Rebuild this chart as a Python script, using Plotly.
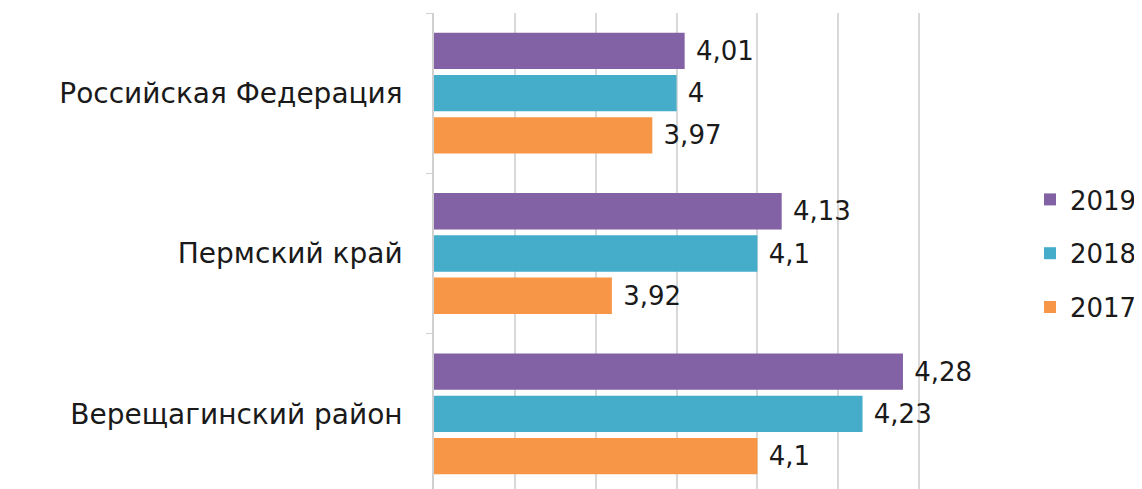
import plotly.graph_objects as go

categories = ["Верещагинский район", "Пермский край", "Российская Федерация"]
years = ["2017", "2018", "2019"]
v2017 = [4.1, 3.92, 3.97]
v2018 = [4.23, 4.1, 4.0]
v2019 = [4.28, 4.13, 4.01]
labels2017 = ["4,1", "3,92", "3,97"]
labels2018 = ["4,23", "4,1", "4"]
labels2019 = ["4,28", "4,13", "4,01"]

colors = {"2017": "#F79646", "2018": "#45ADCA", "2019": "#8261A4"}
series = {"2017": (v2017, labels2017), "2018": (v2018, labels2018), "2019": (v2019, labels2019)}
ranks = {"2019": 1, "2018": 2, "2017": 3}

FONT = "DejaVu Sans"
fig = go.Figure()
for y in years:
    vals, labs = series[y]
    fig.add_trace(go.Bar(
        y=categories, x=vals, name=y, orientation="h", legendgroup=y,
        legendrank=ranks[y],
        marker=dict(color=colors[y], line=dict(width=0)),
        text=labs, textposition="outside", cliponaxis=False,
        texttemplate=" %{text}",
        textfont=dict(family=FONT, size=26, color="#1a1a1a"),
    ))

fig.update_layout(
    width=1142, height=489,
    barmode="group", bargap=0.21, bargroupgap=0.14,
    plot_bgcolor="white", paper_bgcolor="white",
    margin=dict(l=426, r=150, t=5, b=3, pad=0, autoexpand=False),
    font=dict(family=FONT, size=26, color="#1a1a1a"),
    showlegend=True,
    legend=dict(x=1.053, y=0.5, xanchor="left", yanchor="middle",
                traceorder="grouped", font=dict(size=26, family=FONT),
                itemwidth=30, tracegroupgap=17, bgcolor="rgba(0,0,0,0)"),
    xaxis=dict(range=[3.7, 4.4], dtick=0.1, tick0=3.7, showticklabels=False,
               showgrid=True, gridcolor="#d9d9d9", gridwidth=1.5, zeroline=False,
               showline=False, automargin=False),
    yaxis=dict(showline=True, linecolor="#d0d0d0", linewidth=1.5, automargin=False,
               ticks="outside", ticklen=6, tickcolor="#d0d0d0", tickson="boundaries",
               ticklabelstandoff=24, tickfont=dict(size=28, family=FONT, color="#1a1a1a")),
)
fig.write_html("out.html")
